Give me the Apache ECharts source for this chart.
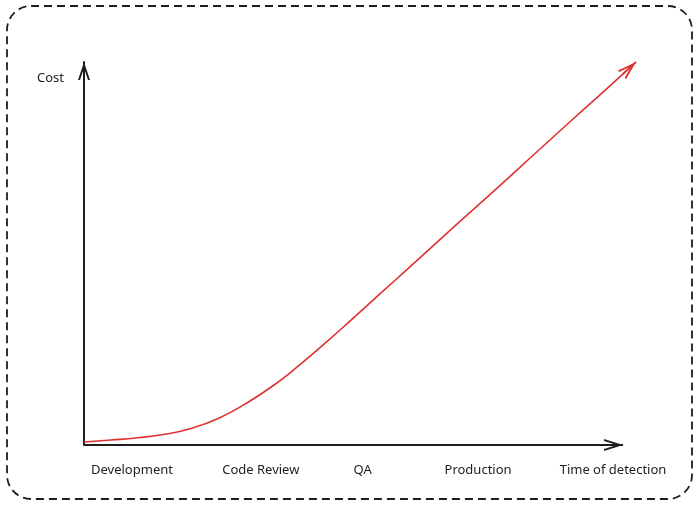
<!DOCTYPE html>
<html>
<head>
<meta charset="utf-8">
<script src="https://cdn.jsdelivr.net/npm/echarts@6/dist/echarts.min.js"></script>
<style>html,body{margin:0;padding:0;background:#fff}#c{width:700px;height:507px}</style>
</head>
<body>
<div id="c"></div>
<script>
// ---- data ----
const stageNames = ['Development', 'Code Review', 'QA', 'Production'];
const stageX = [8.9, 32.8, 51.7, 73.1];
const xName = 'Time of detection';
const yName = 'Cost';
const xAxisEnd = 100;
const curveX = [0, 5, 10, 15, 20, 25, 30, 35, 40, 45, 50, 55, 60, 65, 70, 75, 80, 85, 90, 95, 100, 102.4];
const curveY = [0.8, 1.3, 1.9, 2.8, 4.4, 7.0, 10.8, 15.4, 20.9, 26.9, 33.2, 39.6, 45.9, 52.3, 58.7, 65.0, 71.4, 77.8, 84.2, 90.5, 96.9, 100];

// ---- styling ----
const INK = '#1e1e1e';
const RED = '#e03131';
const FONT = 'Noto Sans';
// chevron pointing up, tip at top
const CHEVRON = 'path://M0,36 L12,0 L24,36 L20,36 L12,12 L4,36 Z';

const curveData = curveX.map((x, i) => [x, curveY[i]]);
const n = curveData.length;

const chart = echarts.init(document.getElementById('c'), null, { renderer: 'canvas' });
chart.setOption({
  backgroundColor: '#fff',
  animation: false,
  graphic: [{
    type: 'rect',
    shape: { x: 7, y: 6, width: 685, height: 493, r: 24 },
    style: { fill: 'none', stroke: INK, lineWidth: 1.8, lineDash: [8, 5] },
    silent: true
  }],
  grid: { left: 84, top: 62, right: 64, bottom: 62 },
  xAxis: {
    type: 'value', min: 0, max: curveX[n - 1],
    name: xName, nameLocation: 'end', nameGap: -23,
    nameTextStyle: { fontFamily: FONT, fontSize: 13, color: INK, align: 'center', verticalAlign: 'top', padding: [19, 0, 0, 0] },
    axisLine: { show: false },
    axisTick: { show: false },
    splitLine: { show: false },
    axisLabel: {
      customValues: stageX,
      margin: 19,
      fontFamily: FONT, fontSize: 13, color: INK,
      formatter: v => { const i = stageX.indexOf(v); return i >= 0 ? stageNames[i] : ''; }
    }
  },
  yAxis: {
    type: 'value', min: 0, max: 100,
    name: yName, nameLocation: 'end', nameGap: -16,
    nameTextStyle: { fontFamily: FONT, fontSize: 13, color: INK, align: 'right', verticalAlign: 'middle', padding: [0, 20, 0, 0] },
    axisLine: { show: true, onZero: false, lineStyle: { color: INK, width: 2 }, symbol: ['none', CHEVRON], symbolSize: [12, 18], symbolOffset: [0, -9] },
    axisTick: { show: false },
    splitLine: { show: false },
    axisLabel: { show: false }
  },
  series: [{
    type: 'line',
    data: curveData,
    smooth: true,
    clip: false,
    showSymbol: false,
    symbol: 'none',
    lineStyle: { color: RED, width: 1.6 },
    z: 3,
    markLine: {
      silent: true,
      animation: false,
      symbol: ['none', CHEVRON],
      symbolSize: [12, 19],
      symbolOffset: [0, [0, 9.5]],
      label: { show: false },
      data: [
        [{ coord: curveData[n - 2], lineStyle: { color: RED, width: 1.6, type: 'solid' } },
         { coord: curveData[n - 1] }],
        [{ coord: [0, 0], lineStyle: { color: INK, width: 2, type: 'solid' }, symbolSize: [14, 18] },
         { coord: [xAxisEnd, 0] }]
      ]
    }
  }]
});
</script>
</body>
</html>
